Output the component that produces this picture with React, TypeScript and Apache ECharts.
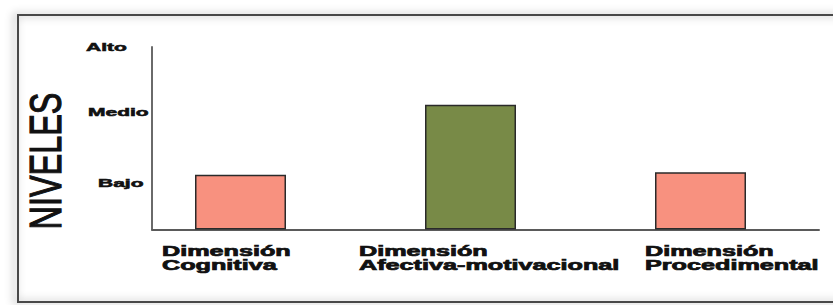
import React, { useEffect, useRef } from "react";
import * as echarts from "echarts";

// ---- data ----
const categories = ["Dimensión\nCognitiva", "Dimensión\nAfectiva-motivacional", "Dimensión\nProcedimental"];
const levelValues = [0.9, 2.05, 0.94];
const barColors = ["#F8917F", "#788A47", "#F8917F"];
const tickLabels = ["Bajo", "Medio", "Alto"];
const tickValues = [0.765, 1.93, 3];
const axisTitle = "NIVELES";

// ---- layout (not data) ----
const catLabelLeft = [162, 359, 645];
const tickLabelLeft = [98, 88, 86];

export default function App() {
  const ref = useRef<HTMLDivElement>(null);
  useEffect(() => {
    if (!ref.current) return;
    const chart = echarts.init(ref.current, undefined, { renderer: "svg" });
    const top = 47;
    const bottom = 75.5;
    chart.setOption({
      animation: false,
      backgroundColor: "#ffffff",
      grid: [
        { left: 125.5, right: 17.5, top, bottom },
        { left: 152, right: 14, top, bottom },
      ],
      xAxis: [
        { type: "category", gridIndex: 0, data: categories, show: false },
        {
          type: "category",
          gridIndex: 1,
          data: categories,
          axisLine: { show: true, lineStyle: { color: "#5a5a5a", width: 2 } },
          axisTick: { show: false },
          axisLabel: { show: false },
        },
      ],
      yAxis: [
        { type: "value", gridIndex: 0, min: 0, max: 3, show: false },
        {
          type: "value",
          gridIndex: 1,
          min: 0,
          max: 3,
          axisLine: { show: true, lineStyle: { color: "#6a6a6a", width: 2 } },
          axisTick: { show: false },
          axisLabel: { show: false },
          splitLine: { show: false },
        },
      ],
      series: [
        {
          type: "bar",
          xAxisIndex: 0,
          yAxisIndex: 0,
          barWidth: 91,
          data: levelValues.map((v, i) => ({ value: v, itemStyle: { color: barColors[i] } })),
          itemStyle: { borderColor: "#2a2a2a", borderWidth: 1.5 },
        },
      ],
    });

    const graphics: any[] = [
      {
        type: "rect",
        z: -1,
        shape: { x: 18, y: 15, width: 840, height: 287 },
        style: {
          fill: "none",
          stroke: "#4a4a4a",
          lineWidth: 2,
          shadowBlur: 8,
          shadowOffsetX: -3,
          shadowColor: "rgba(0,0,0,0.4)",
        },
      },
      {
        type: "text",
        x: 46,
        y: 161,
        rotation: Math.PI / 2,
        scaleX: 0.72,
        style: {
          text: axisTitle,
          font: 'normal 45px "Liberation Sans"',
          fill: "#111",
          stroke: "#111",
          lineWidth: 1.2,
          align: "center",
          verticalAlign: "middle",
        },
      },
    ];
    tickLabels.forEach((t, i) => {
      const py = chart.convertToPixel({ yAxisIndex: 1 } as any, tickValues[i]) as unknown as number;
      graphics.push({
        type: "text",
        x: tickLabelLeft[i],
        y: py,
        scaleX: 2.1,
        style: {
          text: t,
          font: 'bold 10px "Liberation Sans"',
          fill: "#111",
          stroke: "#111",
          lineWidth: 0.5,
          align: "left",
          verticalAlign: "middle",
        },
      });
    });
    categories.forEach((c, i) => {
      graphics.push({
        type: "text",
        x: catLabelLeft[i],
        y: 244,
        scaleX: 1.8,
        style: {
          text: c,
          font: 'bold 14px "Liberation Sans"',
          lineHeight: 14,
          fill: "#111",
          stroke: "#111",
          lineWidth: 0.7,
          align: "left",
          verticalAlign: "top",
        },
      });
    });
    chart.setOption({ graphic: graphics });

    return () => chart.dispose();
  }, []);
  return <div ref={ref} style={{ position: "fixed", left: 0, top: 0, width: 833, height: 305 }} />;
}
